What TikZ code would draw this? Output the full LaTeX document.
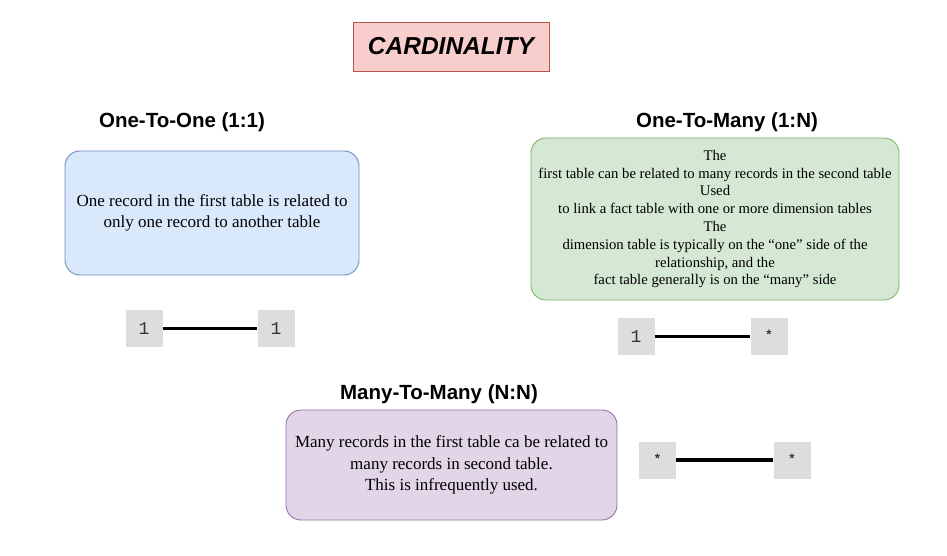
\documentclass[tikz,border=0pt]{standalone}
\usepackage{fontspec}
\setmainfont{Liberation Serif}
\setsansfont{Liberation Sans}
\setmonofont{Liberation Mono}
\usepackage{tikz}
\definecolor{titlefill}{HTML}{F8CECC}
\definecolor{titleline}{HTML}{B85450}
\definecolor{bluefill}{HTML}{DAE8FC}
\definecolor{blueline}{HTML}{6C8EBF}
\definecolor{greenfill}{HTML}{D5E8D4}
\definecolor{greenline}{HTML}{82B366}
\definecolor{purplefill}{HTML}{E1D5E7}
\definecolor{purpleline}{HTML}{9673A6}
\definecolor{cardfill}{HTML}{DDDDDD}
\definecolor{cardtext}{HTML}{333333}
\tikzset{
  heading/.style={font=\sffamily\bfseries\fontsize{20.5}{24}\selectfont},
  infobox/.style={rounded corners=15pt, line width=0.9pt, align=center, inner sep=0pt},
  card/.style={fill=cardfill, minimum width=37pt, minimum height=37pt, inner sep=0pt,
    text=cardtext, font=\ttfamily\fontsize{18}{18}\selectfont},
  link/.style={line width=3.5pt, black}
}
\begin{document}
\begin{tikzpicture}[x=1pt,y=-1pt]
  \useasboundingbox (0,0) rectangle (947,556);
  \node[draw=titleline, fill=titlefill, line width=0.9pt, minimum width=196pt, minimum height=49pt,
    font=\sffamily\bfseries\itshape\fontsize{24.5}{28}\selectfont] (title) at (451,46.5) {CARDINALITY};

  \node[heading] (oneone) at (182,122) {One-To-One (1:1)};
  \node[heading] (onemany) at (727,122) {One-To-Many (1:N)};
  \node[heading] (manymany) at (439,394) {Many-To-Many (N:N)};

  \node[infobox, draw=blueline, fill=bluefill, minimum width=294pt, minimum height=124pt,
    font=\fontsize{17}{21}\selectfont] (onebox) at (212,213)
    {One record in the first table is related to\\only one record to another table};
  \node[infobox, draw=greenline, fill=greenfill, minimum width=368pt, minimum height=162pt,
    font=\fontsize{14.7}{17.8}\selectfont] (manybox) at (715,219)
    {The\\first table can be related to many records in the second table\\Used\\to link a fact table with one or more dimension tables\\The\\dimension table is typically on the ``one'' side of the\\relationship, and the\\fact table generally is on the ``many'' side};
  \node[infobox, draw=purpleline, fill=purplefill, minimum width=331pt, minimum height=110pt,
    font=\fontsize{17}{21.5}\selectfont] (nnbox) at (451.5,465)
    {Many records in the first table ca be related to\\many records in second table.\\This is infrequently used.};

  \node[card] (a1) at (144,328.5) {1};
  \node[card] (a2) at (276,328.5) {1};
  \draw[link] (a1) -- (a2);

  \node[card] (b1) at (636,336.5) {1};
  \node[card] (b2) at (769,336.5) {\raisebox{4pt}{\fontsize{13}{13}\selectfont\bfseries*}};
  \draw[link] (b1) -- (b2);

  \node[card] (c1) at (657.5,460) {\raisebox{2pt}{\fontsize{13}{13}\selectfont\bfseries*}};
  \node[card] (c2) at (792,460) {\raisebox{2pt}{\fontsize{13}{13}\selectfont\bfseries*}};
  \draw[link] (c1) -- (c2);
\end{tikzpicture}
\end{document}
